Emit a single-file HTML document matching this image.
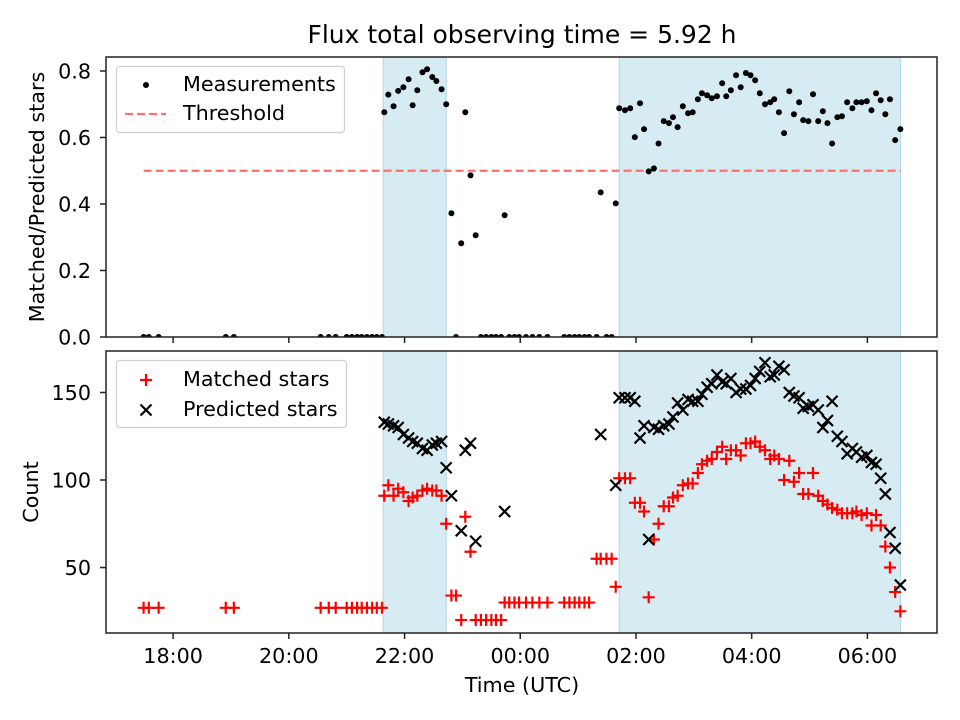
<!DOCTYPE html>
<html><head><meta charset="utf-8"><style>
html,body{margin:0;padding:0;background:#fff;}
svg{display:block;font-family:"DejaVu Sans","Liberation Sans",sans-serif;}
</style></head><body>
<svg id="chart" width="960" height="720" viewBox="0 0 960 720" xmlns="http://www.w3.org/2000/svg">
<rect width="960" height="720" fill="#fff"/>
<text x="522" y="43" font-size="25" text-anchor="middle" fill="#000">Flux total observing time = 5.92 h</text>
<g id="topPanel"></g>
<g id="botPanel"></g>
</svg>
<script>
// time in hours since 00:00 of first day (values >24 are next day)
const times = [17.49,17.58,17.75,18.91,19.05,20.55,20.69,20.81,21.00,21.09,21.18,21.26,21.35,21.44,21.52,21.61,
21.65,21.72,21.81,21.89,21.98,22.07,22.14,22.22,22.31,22.39,22.48,22.55,22.64,22.72,
22.81,22.89,22.98,23.05,23.14,23.23,23.32,23.41,23.50,23.58,23.67,23.73,23.81,23.90,23.98,24.10,24.21,24.33,24.47,
24.76,24.85,24.94,25.02,25.11,25.19,25.32,25.39,25.49,25.58,25.65,
25.71,25.81,25.90,25.98,26.07,26.14,26.22,26.31,26.39,26.48,26.57,26.64,26.72,26.81,26.90,26.98,27.07,27.14,27.23,27.31,
27.40,27.49,27.56,27.64,27.73,27.81,27.90,27.98,28.06,28.14,28.23,28.32,28.39,28.47,28.56,28.65,28.73,28.82,28.89,28.98,
29.06,29.15,29.23,29.31,29.39,29.48,29.56,29.65,29.74,29.81,29.90,29.99,30.07,30.15,30.23,30.31,30.39,30.48,30.57];
const ratio = [0,0,0,0,0,0,0,0,0,0,0,0,0,0,0,0,
0.676,0.729,0.694,0.740,0.751,0.775,0.697,0.742,0.796,0.805,0.782,0.770,0.745,0.700,
0.372,0,0.282,0.676,0.486,0.306,0,0,0,0,0,0.366,0,0,0,0,0,0,0,
0,0,0,0,0,0,0,0.435,0,0,0.402,
0.688,0.682,0.688,0.601,0.703,0.625,0.498,0.507,0.582,0.649,0.643,0.661,0.631,0.694,0.673,0.676,0.715,0.733,0.727,0.718,
0.724,0.763,0.724,0.742,0.787,0.751,0.794,0.787,0.772,0.733,0.700,0.706,0.715,0.676,0.613,0.739,0.670,0.706,0.652,0.649,
0.730,0.649,0.679,0.643,0.582,0.661,0.664,0.706,0.688,0.706,0.706,0.709,0.682,0.733,0.712,0.670,0.715,0.592,0.625];
const matched = [27,27,27,27,27,27,27,27,27,27,27,27,27,27,27,27,
91,97,91,95,93,88,90,91,94,95,94,94,91,75,
34,34,20,79,59,20,20,20,20,20,20,30,30,30,30,30,30,30,30,
30,30,30,30,30,30,55,55,55,55,39,
101,101,101,87,87,82,33,66,75,85,85,90,91,97,98,98,104,109,111,112,
116,119,112,117,117,114,121,121,122,119,117,112,114,112,100,111,99,104,92,92,
104,91,88,86,84,83,81,81,81,82,80,81,74,80,74,62,50,36,25];
const predicted = [null,null,null,null,null,null,null,null,null,null,null,null,null,null,null,null,
133,132,131,130,126,124,122,121,118,117,120,121,122,107,
91,null,71,117,121,65,null,null,null,null,null,82,null,null,null,null,null,null,null,
null,null,null,null,null,null,null,126,null,null,97,
147,147,147,145,124,131,66,130,129,131,132,136,144,140,146,145,145,149,153,155,
160,156,155,158,150,152,152,154,158,162,167,159,160,165,163,150,148,147,141,142,
143,140,130,134,145,125,122,115,118,116,113,114,110,109,101,92,70,61,40];
const shadedStart = [21.63, 25.71];
const shadedEnd = [22.72, 30.57];
const threshold = 0.5;
const thresholdRange = [17.49, 30.57];
const xTickHours = [18,20,22,24,26,28,30];
const xTickLabels = ["18:00","20:00","22:00","00:00","02:00","04:00","06:00"];
const topTicks = [0,0.2,0.4,0.6,0.8];
const topTickLabels = ["0.0","0.2","0.4","0.6","0.8"];
const botTicks = [50,100,150];
const botTickLabels = ["50","100","150"];

const NS="http://www.w3.org/2000/svg";
const L=106,R=937;
const X0=16.84,X1=31.203;
const xs=h=>L+(h-X0)/(X1-X0)*(R-L);
const TT=57,TB=337,BT=351,BB=633;
const yTop=v=>TB-(v-0)/(0.842-0)*(TB-TT);
const yBot=v=>BB-(v-12.6)/(173.7-12.6)*(BB-BT);
const FS=20.7;
function mk(tag,attrs,parent){const e=document.createElementNS(NS,tag);for(const k in attrs)e.setAttribute(k,attrs[k]);parent.appendChild(e);return e;}
const topG=document.getElementById('topPanel'), botG=document.getElementById('botPanel');

function panel(g,T,B,name){
  for(let i=0;i<shadedStart.length;i++){
    const r=mk('rect',{x:xs(shadedStart[i]),y:T,width:xs(shadedEnd[i])-xs(shadedStart[i]),height:B-T,fill:'#add8e6','fill-opacity':0.5,stroke:'#add8e6','stroke-width':1},g);
    
    
  }
}
function frame(g,T,B,name,withLabels){
  const f=mk('rect',{x:L,y:T,width:R-L,height:B-T,fill:'none',stroke:'#222','stroke-width':1.5},g);
  
  
  xTickHours.forEach((h,i)=>{
    const t=mk('line',{x1:xs(h),x2:xs(h),y1:B,y2:B+6,stroke:'#222','stroke-width':1.5},g);
    
    
    if(withLabels){
      const tx=mk('text',{x:xs(h),y:B+30,'font-size':FS,'text-anchor':'middle',fill:'#000'},g);
      tx.textContent=xTickLabels[i];
      
      
    }
  });
}
// top panel
panel(topG,TT,TB,'top');
const thr=mk('line',{x1:xs(thresholdRange[0]),x2:xs(thresholdRange[1]),y1:yTop(threshold),y2:yTop(threshold),stroke:'#ff7070','stroke-width':2.2,'stroke-dasharray':'8,4'},topG);


const clipT=mk('clipPath',{id:'ct'},topG); mk('rect',{x:L,y:TT,width:R-L,height:TB-TT},clipT);
const ptsG=mk('g',{'clip-path':'url(#ct)'},topG);
times.forEach((h,i)=>{
  const c=mk('circle',{cx:xs(h),cy:yTop(ratio[i]),r:3,fill:'#000'},ptsG);
  
  
});
frame(topG,TT,TB,'top',false);
topTicks.forEach((v,i)=>{
  const t=mk('line',{x1:L-6,x2:L,y1:yTop(v),y2:yTop(v),stroke:'#222','stroke-width':1.5},topG);
  
  
  const tx=mk('text',{x:L-15,y:yTop(v)+7.5,'font-size':FS,'text-anchor':'end',fill:'#000'},topG);
  tx.textContent=topTickLabels[i];
  
  
});
const yl1=mk('text',{x:44,y:197,'font-size':FS,'text-anchor':'middle',transform:'rotate(-90 44 197)',fill:'#000'},topG);
yl1.textContent='Matched/Predicted stars';


// top legend
const lg1=mk('g',{},topG);


mk('rect',{x:116.5,y:66.5,width:228,height:66,rx:3,fill:'#fff','fill-opacity':0.8,stroke:'#d0d0d0','stroke-width':1.2},lg1);
mk('circle',{cx:146,cy:85,r:3,fill:'#000'},lg1);
mk('line',{x1:125,x2:166,y1:114,y2:114,stroke:'#ff7070','stroke-width':2.2,'stroke-dasharray':'8,4'},lg1);
const le1=mk('text',{x:183,y:91,'font-size':FS,fill:'#000'},lg1); le1.textContent='Measurements';


const le2=mk('text',{x:183,y:120,'font-size':FS,fill:'#000'},lg1); le2.textContent='Threshold';



// bottom panel
panel(botG,BT,BB,'bottom');
function plus(g,x,y){return mk('path',{d:`M${x-6},${y}H${x+6}M${x},${y-6}V${y+6}`,stroke:'#ff0000','stroke-width':2.2,fill:'none'},g);}
function cross(g,x,y){return mk('path',{d:`M${x-5.5},${y-5.5}L${x+5.5},${y+5.5}M${x-5.5},${y+5.5}L${x+5.5},${y-5.5}`,stroke:'#000','stroke-width':2.2,fill:'none'},g);}
times.forEach((h,i)=>{
  const p=plus(botG,xs(h),yBot(matched[i]));
  
  
});
times.forEach((h,i)=>{
  if(predicted[i]===null) return;
  const p=cross(botG,xs(h),yBot(predicted[i]));
  
  
});
frame(botG,BT,BB,'bottom',true);
botTicks.forEach((v,i)=>{
  const t=mk('line',{x1:L-6,x2:L,y1:yBot(v),y2:yBot(v),stroke:'#222','stroke-width':1.5},botG);
  
  
  const tx=mk('text',{x:L-15,y:yBot(v)+7.5,'font-size':FS,'text-anchor':'end',fill:'#000'},botG);
  tx.textContent=botTickLabels[i];
  
  
});
const yl2=mk('text',{x:38,y:492,'font-size':FS,'text-anchor':'middle',transform:'rotate(-90 38 492)',fill:'#000'},botG);
yl2.textContent='Count';


const xl=mk('text',{x:522,y:692,'font-size':FS,'text-anchor':'middle',fill:'#000'},botG);
xl.textContent='Time (UTC)';


const lg2=mk('g',{},botG);


mk('rect',{x:116.5,y:360.5,width:230,height:67,rx:3,fill:'#fff','fill-opacity':0.8,stroke:'#d0d0d0','stroke-width':1.2},lg2);
plus(lg2,146,380); cross(lg2,146,410);
const le3=mk('text',{x:183,y:386,'font-size':FS,fill:'#000'},lg2); le3.textContent='Matched stars';


const le4=mk('text',{x:183,y:416,'font-size':FS,fill:'#000'},lg2); le4.textContent='Predicted stars';


</script>
</body></html>
